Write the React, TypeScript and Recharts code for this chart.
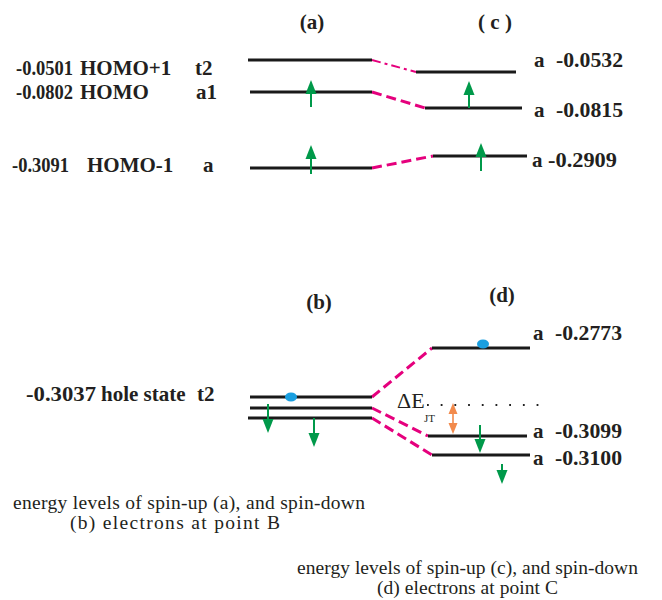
import { ComposedChart, XAxis, YAxis, ReferenceLine, Scatter } from 'recharts';

// energies (Hartree)
const energiesA = [-0.0501, -0.0802, -0.3091];
const namesA = [['HOMO+1', 't2'], ['HOMO', 'a1'], ['HOMO-1', 'a']];
const energiesC = [-0.0532, -0.0815, -0.2909];
const energyB = -0.3037;
const nameB = ['hole state', 't2'];
const energiesD = [-0.2773, -0.3099, -0.3100];
const symC = ['a', 'a', 'a'];
const symD = ['a', 'a', 'a'];

// schematic level heights (diagram units, downwards) and spans
const levelYA = [60, 92, 168];
const levelYC = [72, 108, 156];
const levelYB = [397, 408, 418];
const levelYD = [348, 436, 455];
const spanA = [[248, 372], [250, 372], [250, 372]];
const spanC = [[416, 516], [425, 522], [433, 527]];
const spanB = [[250, 372], [250, 372], [248, 372]];
const spanD = [[432, 530], [428, 527], [432, 530]];

// spin arrows: [x, tail, tip]
const upArrows = [[311, 107, 80], [311, 174, 145], [469, 108, 81], [481, 171, 143]];
const downArrows = [[268, 404, 433], [314, 418, 447], [480, 425, 453], [502, 464, 484]];
const holes = [[291, 397], [483, 344]];
const jtArrow = [453, 403, 434];

const titles = ['(a)', '( c )', '(b)', '(d)'];
const captionAB = ['energy levels of spin-up (a), and spin-down', '(b) electrons at point B'];
const captionCD = ['energy levels of spin-up (c), and spin-down', '(d) electrons  at point C'];

const W = 662;
const H = 600;
const LEVEL = '#1a1a1a';
const LINK = '#e5007d';
const GREEN = '#00994a';
const ORANGE = '#f28a4c';
const BLUE = '#1a9fe0';
const FONT = '"Liberation Serif", "Times New Roman", serif';

type T = {
  x: number; y: number; text: string; w?: number; size?: number;
  bold?: boolean; anchor?: string; adjust?: string;
};

const texts: T[] = [
  { x: 312, y: 22, text: titles[0], bold: true, size: 21, anchor: 'middle' },
  { x: 495, y: 22, text: titles[1], bold: true, size: 21, anchor: 'middle' },
  { x: 319, y: 302, text: titles[2], bold: true, size: 21, anchor: 'middle' },
  { x: 502, y: 295, text: titles[3], bold: true, size: 21, anchor: 'middle' },

  { x: 16, y: 68, text: energiesA[0].toFixed(4), w: 57, bold: true, size: 21 },
  { x: 80, y: 68, text: namesA[0][0], bold: true, size: 21 },
  { x: 195, y: 68, text: namesA[0][1], bold: true, size: 21 },
  { x: 16, y: 92, text: energiesA[1].toFixed(4), w: 57, bold: true, size: 21 },
  { x: 80, y: 92, text: namesA[1][0], bold: true, size: 21 },
  { x: 196, y: 92, text: namesA[1][1], bold: true, size: 21 },
  { x: 12, y: 165, text: energiesA[2].toFixed(4), w: 57, bold: true, size: 21 },
  { x: 87, y: 165, text: namesA[2][0], bold: true, size: 21 },
  { x: 203, y: 165, text: namesA[2][1], bold: true, size: 21 },

  { x: 534, y: 60, text: symC[0], bold: true, size: 21 },
  { x: 556, y: 60, text: energiesC[0].toFixed(4), w: 67, bold: true, size: 21 },
  { x: 534, y: 110, text: symC[1], bold: true, size: 21 },
  { x: 556, y: 110, text: energiesC[1].toFixed(4), w: 67, bold: true, size: 21 },
  { x: 532, y: 160, text: symC[2], bold: true, size: 21 },
  { x: 548, y: 160, text: energiesC[2].toFixed(4), w: 69, bold: true, size: 21 },

  { x: 26, y: 394, text: energyB.toFixed(4), w: 70, bold: true, size: 21 },
  { x: 101, y: 394, text: nameB[0], bold: true, size: 21 },
  { x: 197, y: 394, text: nameB[1], bold: true, size: 21 },

  { x: 533, y: 333, text: symD[0], bold: true, size: 21 },
  { x: 555, y: 333, text: energiesD[0].toFixed(4), w: 67, bold: true, size: 21 },
  { x: 533, y: 431, text: symD[1], bold: true, size: 21 },
  { x: 555, y: 431, text: energiesD[1].toFixed(4), w: 67, bold: true, size: 21 },
  { x: 533, y: 458, text: symD[2], bold: true, size: 21 },
  { x: 555, y: 458, text: energiesD[2].toFixed(4), w: 67, bold: true, size: 21 },

  { x: 13, y: 502, text: captionAB[0], w: 352, size: 19.5, adjust: 'spacing' },
  { x: 70, y: 522, text: captionAB[1], w: 210, size: 19.5, adjust: 'spacing' },
  { x: 297, y: 567, text: captionCD[0], w: 341, size: 19.5, adjust: 'spacing' },
  { x: 377, y: 587, text: captionCD[1], w: 181, size: 19.5, adjust: 'spacing' },

  { x: 397, y: 400, text: 'ΔE', size: 22 },
  { x: 424, y: 418, text: 'JT', size: 11 },
];

const seg = (x1: number, y1: number, x2: number, y2: number) => [{ x: x1, y: y1 }, { x: x2, y: y2 }];

const levels = [
  ...levelYA.map((y, i) => seg(spanA[i][0], y, spanA[i][1], y)),
  ...levelYC.map((y, i) => seg(spanC[i][0], y, spanC[i][1], y)),
  ...levelYB.map((y, i) => seg(spanB[i][0], y, spanB[i][1], y)),
  ...levelYD.map((y, i) => seg(spanD[i][0], y, spanD[i][1], y)),
];

const links = [
  ...levelYA.map((y, i) => seg(spanA[i][1], y, spanC[i][0], levelYC[i])),
  ...levelYB.map((y, i) => seg(spanB[i][1], y, spanD[i][0], levelYD[i])),
];

function TextShape(props: any) {
  const { cx, cy, payload } = props;
  if (cx == null || cy == null) return null;
  return (
    <text
      x={cx}
      y={cy}
      dominantBaseline="central"
      textAnchor={payload.anchor || 'start'}
      style={{ fontFamily: FONT }}
      fontSize={payload.size || 20}
      fontWeight={payload.bold ? 700 : 400}
      fill="#231f20"
      {...(payload.w ? { textLength: payload.w, lengthAdjust: payload.adjust || 'spacingAndGlyphs' } : {})}
    >
      {payload.text}
    </text>
  );
}

const head = (color: string, w: number, h: number, dir: 1 | -1) => (props: any) => {
  const { cx, cy } = props;
  if (cx == null || cy == null) return null;
  // dir 1: points up (tip at cy), -1: points down
  const b = cy + dir * h;
  return <polygon points={`${cx},${cy} ${cx - w / 2},${b} ${cx + w / 2},${b}`} fill={color} />;
};

const Dot = (props: any) => {
  const { cx, cy } = props;
  if (cx == null || cy == null) return null;
  return <ellipse cx={cx} cy={cy} rx={6} ry={4.5} fill={BLUE} />;
};

export default function App() {
  return (
    <div style={{ position: 'absolute', left: 0, top: 0, background: '#fff' }}>
      <ComposedChart width={W} height={H} margin={{ top: 0, right: 0, bottom: 0, left: 0 }}>
        <XAxis type="number" dataKey="x" domain={[0, W]} hide allowDataOverflow />
        <YAxis type="number" dataKey="y" domain={[0, H]} reversed hide allowDataOverflow />

        {links.map((s, i) => (
          <ReferenceLine
            key={`l${i}`}
            segment={s}
            stroke={LINK}
            strokeWidth={i === 0 ? 2 : 3}
            strokeDasharray={i === 0 ? '9 4 3 4' : '10 5'}
            ifOverflow="visible"
          />
        ))}
        {levels.map((s, i) => (
          <ReferenceLine key={`v${i}`} segment={s} stroke={LEVEL} strokeWidth={3.2} ifOverflow="visible" />
        ))}

        <ReferenceLine
          segment={seg(427, 405, 540, 405)}
          stroke="#222"
          strokeWidth={1.8}
          strokeDasharray="1.8 11.9"
          ifOverflow="visible"
        />

        {upArrows.map(([x, a, b], i) => (
          <ReferenceLine key={`u${i}`} segment={seg(x, a, x, b + 8)} stroke={GREEN} strokeWidth={2} ifOverflow="visible" />
        ))}
        {downArrows.map(([x, a, b], i) => (
          <ReferenceLine key={`d${i}`} segment={seg(x, a, x, b - 8)} stroke={GREEN} strokeWidth={2} ifOverflow="visible" />
        ))}
        <ReferenceLine
          segment={seg(jtArrow[0], jtArrow[1] + 6, jtArrow[0], jtArrow[2] - 6)}
          stroke={ORANGE}
          strokeWidth={1.6}
          ifOverflow="visible"
        />

        <Scatter
          data={upArrows.map(([x, , tip]) => ({ x, y: tip }))}
          shape={head(GREEN, 11, 14, 1)}
          isAnimationActive={false}
        />
        <Scatter
          data={downArrows.map(([x, , tip]) => ({ x, y: tip }))}
          shape={head(GREEN, 11, 14, -1)}
          isAnimationActive={false}
        />
        <Scatter data={[{ x: jtArrow[0], y: jtArrow[1] }]} shape={head(ORANGE, 9, 11, 1)} isAnimationActive={false} />
        <Scatter data={[{ x: jtArrow[0], y: jtArrow[2] }]} shape={head(ORANGE, 9, 11, -1)} isAnimationActive={false} />
        <Scatter data={holes.map(([x, y]) => ({ x, y }))} shape={Dot} isAnimationActive={false} />

        <Scatter data={texts} shape={TextShape} isAnimationActive={false} />
      </ComposedChart>
    </div>
  );
}
